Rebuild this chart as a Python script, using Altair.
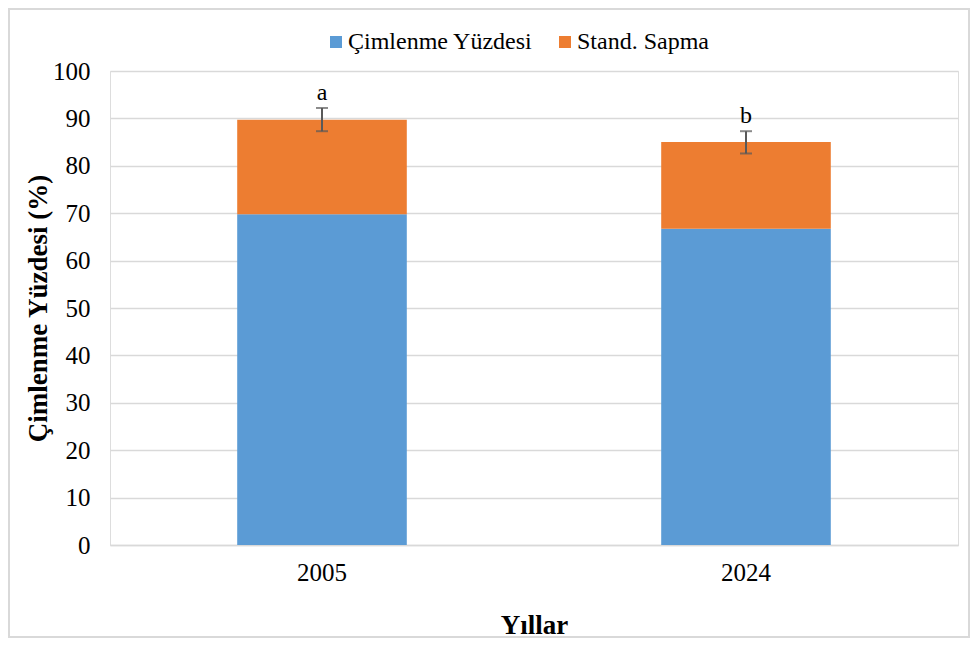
import altair as alt
import pandas as pd

years = ["2005", "2024"]
cimlenme = [69.8, 66.7]
sapma_segment = [19.9, 18.3]
err_low = [87.3, 82.6]
err_high = [92.2, 87.3]
letters = ["a", "b"]
series = ["Çimlenme Yüzdesi", "Stand. Sapma"]
colors = ["#5b9bd5", "#ed7d31"]

rows = []
for i, y in enumerate(years):
    rows.append({"Yıl": y, "Seri": series[0], "Değer": cimlenme[i], "sıra": 0})
    rows.append({"Yıl": y, "Seri": series[1], "Değer": sapma_segment[i], "sıra": 1})
bars_df = pd.DataFrame(rows)
err_df = pd.DataFrame({"Yıl": years, "lo": err_low, "hi": err_high, "harf": letters})

FONT = "Liberation Serif"

xenc = alt.X(
    "Yıl:N",
    title="Yıllar",
    scale=alt.Scale(paddingInner=0.6, paddingOuter=0.3),
    axis=alt.Axis(
        labelAngle=0, labelFont=FONT, labelFontSize=25, labelColor="#000000",
        labelPadding=15, ticks=False, domainColor="#d9d9d9", domainWidth=1.5,
        titleFont=FONT, titleFontSize=27, titleFontWeight="bold", titleColor="#000000",
        titleBaseline="alphabetic", titleY=88,
    ),
)

bars = alt.Chart(bars_df).mark_bar().encode(
    x=xenc,
    y=alt.Y(
        "Değer:Q",
        stack="zero",
        title="Çimlenme Yüzdesi (%)",
        scale=alt.Scale(domain=[0, 100], nice=False),
        axis=alt.Axis(
            values=list(range(0, 101, 10)), labelFont=FONT, labelFontSize=25,
            labelColor="#000000", labelPadding=20, ticks=False, domain=False,
            gridColor="#d9d9d9", gridWidth=1.5,
            titleFont=FONT, titleFontSize=27, titleFontWeight="bold", titleColor="#000000",
            titleAngle=270, titleX=-64, titleY=237, titleAlign="center",
            titleBaseline="alphabetic",
        ),
    ),
    color=alt.Color(
        "Seri:N",
        scale=alt.Scale(domain=series, range=colors),
        legend=alt.Legend(
            title=None, orient="none", direction="horizontal", legendX=214, legendY=-41,
            symbolType="square", symbolSize=144, symbolStrokeWidth=0,
            labelFont=FONT, labelFontSize=24, labelColor="#000000", labelLimit=400,
            labelOffset=0, columnPadding=20,
        ),
    ),
    order=alt.Order("sıra:Q", sort="ascending"),
)

rules = alt.Chart(err_df).mark_rule(color="#595959", strokeWidth=2).encode(
    x="Yıl:N", y="lo:Q", y2="hi:Q"
)
caps_lo = alt.Chart(err_df).mark_tick(color="#595959", thickness=2, size=12, orient="horizontal").encode(
    x="Yıl:N", y="lo:Q"
)
caps_hi = alt.Chart(err_df).mark_tick(color="#595959", thickness=2, size=12, orient="horizontal").encode(
    x="Yıl:N", y="hi:Q"
)
texts = alt.Chart(err_df).mark_text(
    font=FONT, fontSize=24, color="#000000", baseline="alphabetic", dy=-8
).encode(x="Yıl:N", y="hi:Q", text="harf:N")

border = alt.Chart(pd.DataFrame({"k": [0]})).mark_rect(
    fill=None, stroke="#d9d9d9", strokeWidth=2
).encode(
    x=alt.value(-101), x2=alt.value(859), y=alt.value(-62), y2=alt.value(566)
)

chart = alt.layer(border, bars, rules, caps_lo, caps_hi, texts).properties(
    width=848,
    height=474,
    autosize=alt.AutoSizeParams(type="none"),
    padding={"left": 102, "top": 63, "right": 12, "bottom": 93},
).configure_view(stroke=None).configure(background="#ffffff")

chart.save("out.html", embed_options={"renderer": "svg", "actions": False})
